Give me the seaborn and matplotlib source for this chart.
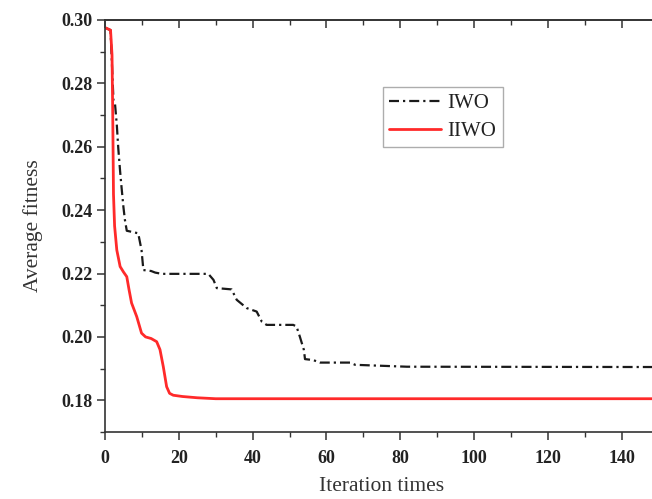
import matplotlib
matplotlib.use("Agg")
import matplotlib.pyplot as plt
import seaborn as sns
from matplotlib.ticker import MultipleLocator

# IWO convergence curve (iteration, average fitness)
iwo_iter = [0, 1.5, 2.3, 2.7, 3.2, 3.6, 4.1, 4.5, 5.0, 5.4, 5.9, 9.0, 9.9, 10.4,
            12.5, 13.6, 15.4, 28, 29.4, 30.3, 34.3, 35.7, 38.4, 41.1, 42.5, 43.8,
            51, 51.9, 52.8, 53.9, 54.2, 56.4, 58.3, 66.4, 67.8, 81.8, 150]
iwo_fit = [0.2976, 0.2968, 0.2745, 0.2737, 0.2669, 0.2595, 0.2522, 0.2470, 0.2409,
           0.2369, 0.2335, 0.2327, 0.2274, 0.2211, 0.2208, 0.2203, 0.2199, 0.2199,
           0.2180, 0.2154, 0.2150, 0.2117, 0.2091, 0.2080, 0.2048, 0.2038, 0.2038,
           0.2033, 0.2001, 0.1959, 0.1930, 0.1927, 0.1919, 0.1919, 0.1912, 0.1906,
           0.1905]

# IIWO convergence curve
iiwo_iter = [0, 1.5, 1.9, 2.1, 2.3, 2.6, 3.2, 4.1, 5.0, 5.9, 6.5, 7.2, 8.6, 9.9,
             11.0, 12.5, 14.0, 14.9, 15.8, 16.7, 17.5, 18.5, 21, 25, 30, 150]
iiwo_fit = [0.2976, 0.2968, 0.2890, 0.2700, 0.2450, 0.2350, 0.2274, 0.2222, 0.2205,
            0.2190, 0.2150, 0.2107, 0.2064, 0.2012, 0.2000, 0.1995, 0.1985, 0.1960,
            0.1906, 0.1843, 0.1822, 0.1816, 0.1812, 0.1808, 0.1805, 0.1805]

sns.set_theme(style="ticks")
plt.rcParams['font.family'] = ['Liberation Serif', 'DejaVu Serif']

fig = plt.figure(figsize=(6.52, 4.99), dpi=100)
# right edge of the axes lies just outside the picture, as in the original crop
ax = fig.add_axes([105 / 652, 1 - 432 / 499, 553.5 / 652, 412 / 499])

sns.lineplot(x=iwo_iter, y=iwo_fit, ax=ax, color='#1a1a1a', linewidth=1.6,
             linestyle=(0, (4.5, 1.8, 1.0, 1.8)), label='IWO', sort=False)
sns.lineplot(x=iiwo_iter, y=iiwo_fit, ax=ax, color='#ff2a2a', linewidth=2.0,
             label='IIWO', sort=False)

ax.set_xlim(0, 150)
ax.set_ylim(0.17, 0.30)
ax.xaxis.set_major_locator(MultipleLocator(20))
ax.xaxis.set_minor_locator(MultipleLocator(10))
ax.yaxis.set_minor_locator(MultipleLocator(0.01))
ax.set_yticks([0.18, 0.20, 0.22, 0.24, 0.26, 0.28, 0.30])
ax.set_yticklabels(['0.18', '0.20', '0.22', '0.24', '0.26', '0.28', '0.30'])

edge = '#333333'
for side in ['left', 'bottom', 'top', 'right']:
    ax.spines[side].set_visible(True)
    ax.spines[side].set_color(edge)
    ax.spines[side].set_linewidth(1.2)

ax.tick_params(which='major', direction='out', length=6, width=1.1, color=edge,
               labelsize=13, labelcolor='#222222')
ax.tick_params(axis='x', which='major', pad=7)
ax.tick_params(axis='y', which='major', pad=3)
ax.tick_params(which='minor', direction='out', length=3.5, width=1.0, color=edge)
for lab in ax.get_xticklabels() + ax.get_yticklabels():
    lab.set_fontweight('bold')

# inward ticks on the top edge
top = ax.secondary_xaxis('top')
top.xaxis.set_major_locator(MultipleLocator(20))
top.xaxis.set_minor_locator(MultipleLocator(10))
top.tick_params(which='major', direction='in', length=6, width=1.1, color=edge, labeltop=False)
top.tick_params(which='minor', direction='in', length=3.5, width=1.0, color=edge)
top.spines['top'].set_color(edge)
top.spines['top'].set_linewidth(1.2)

ax.set_xlabel('Iteration times', fontsize=15.5, color='#333333', labelpad=7)
ax.set_ylabel('Average fitness', fontsize=15.5, color='#333333', labelpad=13)

leg = ax.legend(loc='upper left', bbox_to_anchor=(0.502, 0.837), fontsize=15,
                frameon=True, fancybox=False, edgecolor='#999999',
                handlelength=2.5, handletextpad=0.3, borderpad=0.3,
                labelspacing=0.4, borderaxespad=0)
leg.get_frame().set_linewidth(1.0)
for t in leg.get_texts():
    t.set_color('#222222')

fig.savefig('out.png', dpi=100)
